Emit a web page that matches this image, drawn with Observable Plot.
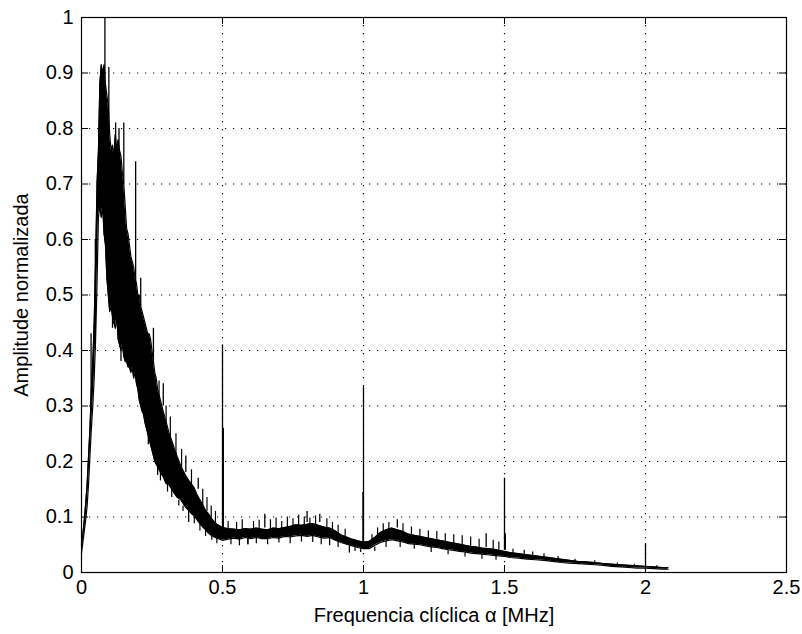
<!DOCTYPE html>
<html>
<head>
<meta charset="utf-8">
<script src="https://cdn.jsdelivr.net/npm/d3@7"></script>
<script src="https://cdn.jsdelivr.net/npm/@observablehq/plot@0.6"></script>
<style>
  html, body { margin: 0; padding: 0; background: #fff; }
</style>
</head>
<body>
<div id="chart"></div>
<script>
// Envelope of the noisy spectrum (MHz, lower and upper amplitude)
const freq = [0.000,0.005,0.010,0.015,0.020,0.025,0.030,0.035,0.040,0.045,0.050,0.055,0.060,0.065,0.070,0.075,0.080,0.085,0.090,0.095,
  0.100,0.105,0.110,0.115,0.120,0.125,0.130,0.135,0.140,0.145,0.150,0.155,0.160,0.165,0.170,0.175,0.180,0.185,0.190,0.195,
  0.200,0.205,0.210,0.215,0.220,0.225,0.230,0.235,0.240,0.245,0.250,0.255,0.260,0.265,0.270,0.280,0.290,0.300,0.310,0.320,
  0.330,0.340,0.350,0.360,0.370,0.380,0.390,0.400,0.410,0.420,0.430,0.440,0.450,0.460,0.470,0.480,0.490,0.500,
  0.52,0.54,0.56,0.58,0.60,0.62,0.64,0.66,0.68,0.70,0.72,0.74,0.76,0.78,0.80,0.82,0.84,0.86,0.88,0.90,0.92,0.94,0.96,0.98,1.00,
  1.02,1.04,1.06,1.08,1.10,1.12,1.14,1.16,1.18,1.20,1.22,1.24,1.26,1.28,1.30,1.32,1.34,1.36,1.38,1.40,1.42,1.44,1.46,1.48,1.50,
  1.52,1.55,1.58,1.61,1.64,1.67,1.70,1.73,1.76,1.79,1.82,1.85,1.88,1.91,1.94,1.97,2.00,2.03,2.06,2.08];
const lo = [0.035,0.055,0.075,0.095,0.120,0.160,0.210,0.260,0.300,0.350,0.420,0.520,0.640,0.660,0.640,0.660,0.610,0.590,0.530,0.500,
  0.470,0.480,0.460,0.450,0.440,0.460,0.420,0.410,0.400,0.410,0.390,0.380,0.380,0.370,0.370,0.360,0.370,0.350,0.360,0.340,
  0.330,0.310,0.300,0.290,0.285,0.270,0.260,0.250,0.240,0.230,0.220,0.210,0.200,0.195,0.190,0.180,0.172,0.160,0.158,0.150,
  0.142,0.135,0.132,0.125,0.117,0.112,0.106,0.102,0.095,0.088,0.082,0.077,0.071,0.067,0.064,0.062,0.060,0.058,
  0.060,0.062,0.060,0.063,0.061,0.063,0.061,0.061,0.063,0.062,0.065,0.064,0.066,0.067,0.065,0.067,0.064,0.062,0.063,0.058,0.054,0.051,0.048,0.045,0.043,
  0.043,0.049,0.054,0.057,0.059,0.057,0.055,0.052,0.051,0.050,0.048,0.046,0.045,0.043,0.041,0.040,0.038,0.037,0.035,0.034,0.033,0.032,0.031,0.030,0.029,
  0.027,0.026,0.024,0.023,0.022,0.020,0.018,0.017,0.016,0.015,0.014,0.013,0.011,0.010,0.009,0.008,0.008,0.007,0.006,0.006];
const hi = [0.050,0.070,0.095,0.125,0.160,0.210,0.260,0.330,0.380,0.450,0.560,0.700,0.760,0.880,0.915,0.900,0.915,0.880,0.860,0.840,
  0.790,0.760,0.770,0.750,0.790,0.760,0.780,0.760,0.750,0.720,0.700,0.660,0.620,0.610,0.590,0.570,0.560,0.550,0.530,0.520,
  0.500,0.500,0.480,0.470,0.460,0.450,0.440,0.430,0.430,0.420,0.400,0.380,0.360,0.350,0.330,0.310,0.290,0.272,0.252,0.238,
  0.222,0.208,0.195,0.184,0.174,0.166,0.160,0.152,0.140,0.131,0.122,0.112,0.106,0.098,0.092,0.087,0.084,0.081,
  0.079,0.078,0.077,0.079,0.078,0.080,0.078,0.077,0.080,0.079,0.081,0.083,0.086,0.085,0.087,0.088,0.085,0.082,0.080,0.075,0.068,0.064,0.060,0.057,0.055,
  0.056,0.063,0.072,0.077,0.080,0.077,0.074,0.069,0.067,0.065,0.063,0.061,0.059,0.057,0.055,0.053,0.051,0.049,0.047,0.046,0.044,0.043,0.042,0.040,0.038,
  0.036,0.034,0.032,0.030,0.028,0.026,0.024,0.022,0.020,0.019,0.018,0.016,0.015,0.014,0.013,0.012,0.011,0.010,0.009,0.009];

// Isolated tall spikes: frequency, base amplitude, tip amplitude
const spikeFreq = [0.034,0.049,0.083,0.097,0.121,0.133,0.150,0.192,0.210,0.255,0.290,0.370,0.414,0.500,0.503,0.650,0.800,0.845,0.998,1.000,1.120,1.435,1.500,1.503,2.000,
  0.110,0.140,0.237,0.270,0.380,0.590,0.950];
const spikeFrom = [0.30,0.40,0.80,0.80,0.75,0.75,0.70,0.52,0.48,0.38,0.30,0.18,0.15,0.08,0.08,0.08,0.09,0.09,0.055,0.055,0.08,0.045,0.04,0.04,0.012,
  0.46,0.40,0.25,0.19,0.11,0.06,0.048];
const spikeTo = [0.43,0.60,1.00,0.91,0.81,0.80,0.81,0.74,0.53,0.44,0.34,0.21,0.17,0.41,0.26,0.105,0.11,0.105,0.144,0.335,0.095,0.07,0.17,0.07,0.052,
  0.44,0.38,0.23,0.175,0.09,0.05,0.035];

// Small noise whiskers sticking out of the band: frequency, base amplitude, tip amplitude
const whiskFreq = [0.275,0.300,0.315,0.335,0.355,0.390,0.430,0.445,0.460,0.475,
  0.280,0.305,0.320,0.345,0.360,0.400,0.420,0.440,0.462,0.480,
  0.520,0.550,0.570,0.610,0.630,0.670,0.690,0.710,0.730,0.750,0.770,0.790,0.810,0.830,0.870,0.890,0.910,0.935,
  0.530,0.560,0.590,0.620,0.660,0.700,0.740,0.780,0.820,0.850,0.880,0.910,0.970,0.990,
  1.030,1.050,1.070,1.090,1.140,1.170,1.200,1.230,1.260,1.290,1.320,1.350,1.380,1.410,1.460,1.480,
  1.040,1.080,1.130,1.180,1.240,1.300,1.360,1.420,1.470,
  1.530,1.570,1.600,1.640,1.690,1.750,1.820,1.900,1.960,2.040];
const whiskFrom = [0.30,0.26,0.24,0.21,0.19,0.16,0.12,0.11,0.09,0.085,
  0.18,0.16,0.15,0.13,0.12,0.10,0.09,0.08,0.068,0.063,
  0.075,0.075,0.075,0.075,0.075,0.075,0.075,0.075,0.078,0.078,0.080,0.080,0.082,0.082,0.078,0.075,0.070,0.064,
  0.062,0.062,0.062,0.062,0.062,0.063,0.065,0.067,0.067,0.064,0.063,0.058,0.047,0.045,
  0.054,0.060,0.068,0.072,0.070,0.064,0.061,0.058,0.055,0.052,0.050,0.048,0.046,0.044,0.040,0.038,
  0.046,0.056,0.057,0.051,0.047,0.040,0.036,0.032,0.030,
  0.034,0.032,0.029,0.027,0.023,0.020,0.016,0.013,0.011,0.008];
const whiskTo = [0.345,0.300,0.280,0.250,0.222,0.185,0.150,0.135,0.120,0.110,
  0.165,0.145,0.135,0.120,0.110,0.088,0.075,0.065,0.058,0.052,
  0.092,0.090,0.095,0.092,0.094,0.095,0.098,0.092,0.100,0.097,0.103,0.100,0.098,0.102,0.097,0.090,0.085,0.078,
  0.050,0.048,0.050,0.052,0.050,0.053,0.052,0.055,0.054,0.050,0.048,0.045,0.038,0.036,
  0.068,0.080,0.088,0.090,0.088,0.082,0.078,0.075,0.074,0.070,0.068,0.066,0.064,0.060,0.058,0.055,
  0.038,0.045,0.045,0.042,0.036,0.032,0.028,0.024,0.022,
  0.042,0.040,0.037,0.034,0.029,0.024,0.021,0.017,0.015,0.012];

const xTicks = [0, 0.5, 1, 1.5, 2, 2.5];
const yTicks = [0, 0.1, 0.2, 0.3, 0.4, 0.5, 0.6, 0.7, 0.8, 0.9, 1];
const xGrid = [0.5, 1, 1.5, 2];
const yGrid = [0.1, 0.2, 0.3, 0.4, 0.5, 0.6, 0.7, 0.8, 0.9];
const xLabel = "Frequencia clíclica α [MHz]";
const yLabel = "Amplitude normalizada";

const band = freq.map((f, i) => ({freq: f, lo: lo[i], hi: hi[i]}));
const spikes = spikeFreq.map((f, i) => ({freq: f, from: spikeFrom[i], to: spikeTo[i]}));
const whiskers = whiskFreq.map((f, i) => ({freq: f, from: whiskFrom[i], to: whiskTo[i]}));

const W = 802, H = 634, mL = 81, mR = 16, mT = 17, mB = 62;
const fw = W - mL - mR, fh = H - mT - mB, tl = 7;

const chart = Plot.plot({
  width: W, height: H,
  marginLeft: mL, marginRight: mR, marginTop: mT, marginBottom: mB,
  x: {domain: [0, 2.5]},
  y: {domain: [0, 1]},
  style: {fontFamily: "'Liberation Sans', Arial, Helvetica, sans-serif", fontSize: "20px", background: "#fff", color: "#000"},
  marks: [
    Plot.gridX(xGrid, {stroke: "#000", strokeOpacity: 1, strokeWidth: 1.2, strokeDasharray: "1.2,6.8"}),
    Plot.gridY(yGrid, {stroke: "#000", strokeOpacity: 1, strokeWidth: 1.2, strokeDasharray: "1.2,6.8"}),
    Plot.areaY(band, {x: "freq", y1: "lo", y2: "hi", fill: "#000"}),
    Plot.line(band, {x: "freq", y: "hi", stroke: "#000", strokeWidth: 1.2}),
    Plot.line(band, {x: "freq", y: "lo", stroke: "#000", strokeWidth: 1.2}),
    Plot.ruleX(whiskers, {x: "freq", y1: "from", y2: "to", stroke: "#000", strokeWidth: 1.2}),
    Plot.ruleX(spikes, {x: "freq", y1: "from", y2: "to", stroke: "#000", strokeWidth: 1.3}),
    Plot.frame({stroke: "#000", strokeWidth: 1.2}),
    Plot.tickX(xTicks, {x: d => d, insetTop: fh - tl, stroke: "#000"}),
    Plot.tickX(xTicks, {x: d => d, insetBottom: fh - tl, stroke: "#000"}),
    Plot.tickY(yTicks, {y: d => d, insetRight: fw - tl, stroke: "#000"}),
    Plot.tickY(yTicks, {y: d => d, insetLeft: fw - tl, stroke: "#000"}),
    Plot.axisX(xTicks, {tickSize: 0, tickPadding: 7, tickFormat: d => String(d), label: null, fontSize: 20}),
    Plot.axisY(yTicks, {tickSize: 0, tickPadding: 8, tickFormat: d => String(d), label: null, fontSize: 20}),
    Plot.text([xLabel], {text: d => d, frameAnchor: "bottom", dy: 35, lineAnchor: "top", fontSize: 20}),
    Plot.text([yLabel], {text: d => d, frameAnchor: "left", dx: -60, rotate: -90, lineAnchor: "middle", textAnchor: "middle", fontSize: 20})
  ]
});
document.getElementById("chart").appendChild(chart);
</script>
</body>
</html>
